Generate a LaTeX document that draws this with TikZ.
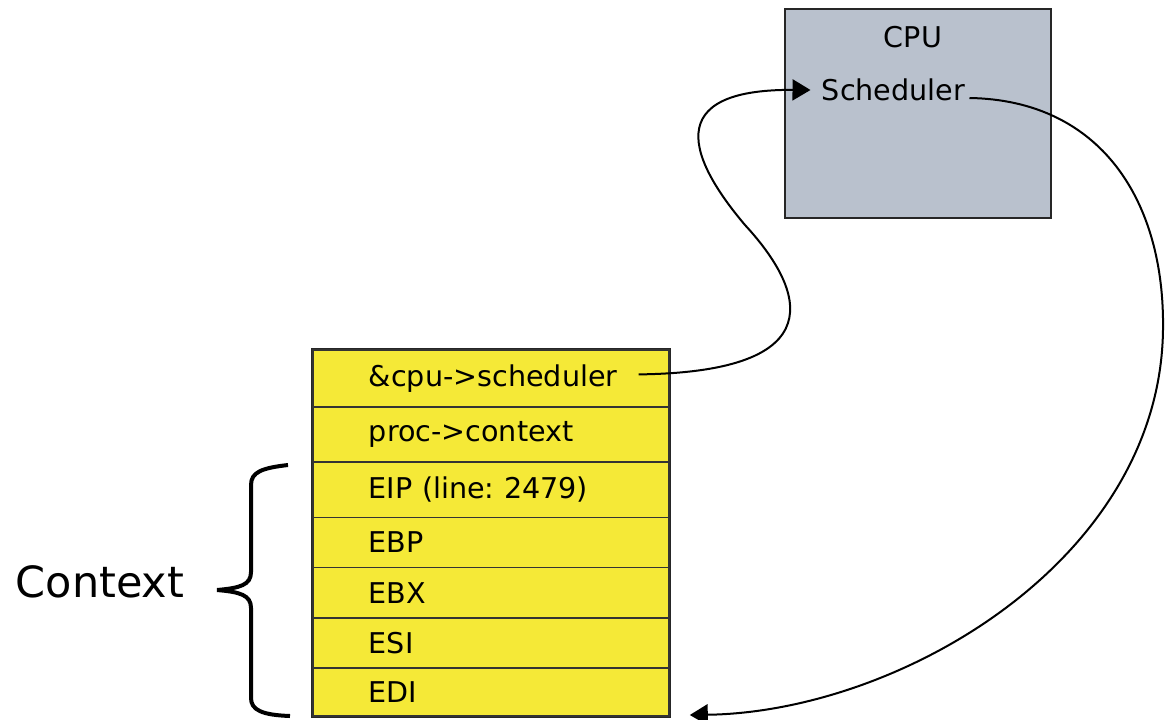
\documentclass[tikz,border=0pt]{standalone}
\usepackage{fontspec}
\setmainfont{DejaVu Sans}
\usetikzlibrary{positioning,matrix,arrows.meta}
\definecolor{stackyellow}{RGB}{245,233,55}
\definecolor{cpugray}{RGB}{185,193,205}
\frenchspacing

\begin{document}
\begin{tikzpicture}[x=0.5pt,y=-0.5pt,
    font=\fontsize{14.3}{17}\selectfont,
    link/.style={line width=1pt, -{Triangle[length=9pt,width=10.5pt]}},
    ]
\useasboundingbox (0,0) rectangle (1174,719);

% cpu box
\node[draw=black!85, line width=1pt, fill=cpugray, minimum width=133pt, minimum height=104.5pt] (cpu) at (918,113.5) {};
\node (cpulabel) at (913,37) {CPU};
\node[inner sep=0pt] (sched) at (893.5,90) {Scheduler};

% kernel stack
\matrix (stack) [matrix of nodes, anchor=north west, draw=black!85, line width=1.2pt, inner sep=0pt,
    row sep=-0.6pt,
    nodes={draw=black!80, line width=0.7pt, fill=stackyellow, text width=150pt,
        inner xsep=14pt, inner ysep=2pt, align=left,
        execute at begin node=\hspace*{14pt}},
    row 1/.style={nodes={minimum height=28.5pt}},
    row 2/.style={nodes={minimum height=27.5pt}},
    row 3/.style={nodes={minimum height=27.5pt}},
    row 4/.style={nodes={minimum height=25pt}},
    row 5/.style={nodes={minimum height=25pt}},
    row 6/.style={nodes={minimum height=25pt}},
    row 7/.style={nodes={minimum height=24pt}},
    ] at (311,348) {
    \&cpu->scheduler\\
    proc->context\\
    EIP (line: 2479)\\
    EBP\\
    EBX\\
    ESI\\
    EDI\\
};

% links
\draw[link] ([xshift=-15.5pt,yshift=2pt]stack-1-1.east)
    .. controls (835,372) and (805,290) .. (745,225)
    .. controls (690,160) and (660,89) .. ([xshift=-5.5pt]sched.west);
\draw[link] ([shift={(2pt,-4pt)}]sched.east)
    .. controls (1100,100) and (1165,200) .. (1163,330)
    .. controls (1160,560) and (900,712) .. ([shift={(9.5pt,1.5pt)}]stack.south east);

% brace
\draw[line width=2pt] (288,465) .. controls (262,468) and (251,472) .. (251,485) -- (251,572)
    .. controls (251,585) and (240,588) .. (217,590)
    .. controls (240,592) and (251,595) .. (251,608) -- (251,698)
    .. controls (251,710) and (262,715) .. (290,716);
\node[font=\fontsize{21.5}{26}\selectfont] (ctx) at (100,582) {Context};

\end{tikzpicture}
\end{document}
